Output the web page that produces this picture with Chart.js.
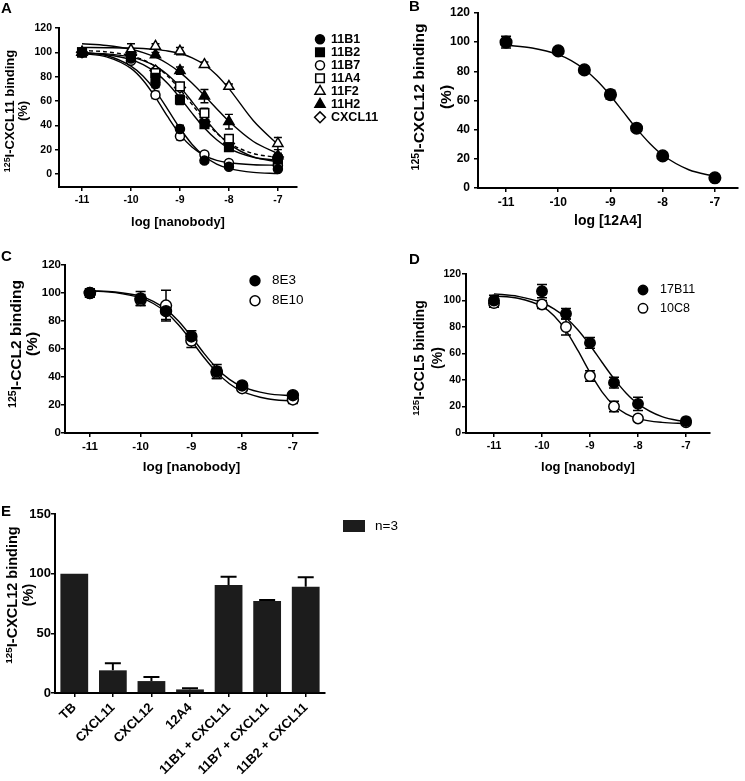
<!DOCTYPE html>
<html>
<head>
<meta charset="utf-8">
<script src="https://cdn.jsdelivr.net/npm/chart.js@4.4.1/dist/chart.umd.min.js"></script>
<style>
  html, body { margin: 0; padding: 0; background: #fff; }
  #figure { position: relative; width: 745px; height: 781px; overflow: hidden; background: #fff;
            font-family: "Liberation Sans", Arial, sans-serif; color: #000; }
  #figure canvas { position: absolute; }
  .panel-letter { position: absolute; font-weight: bold; font-size: 15px; line-height: 15px; }
  .ytitle { position: absolute; font-weight: bold; white-space: nowrap; text-align: center;
            transform: translate(-50%, -50%) rotate(-90deg); }
  .ytitle .sup { font-size: 0.68em; position: relative; top: -0.5em; }
</style>
</head>
<body>
<div id="figure">
  <canvas id="chartA" width="390" height="232" style="left:0;top:0"></canvas>
  <canvas id="chartB" width="375" height="232" style="left:370px;top:0"></canvas>
  <canvas id="chartC" width="370" height="240" style="left:0;top:240px"></canvas>
  <canvas id="chartD" width="375" height="240" style="left:370px;top:240px"></canvas>
  <canvas id="chartE" width="440" height="301" style="left:0;top:480px"></canvas>
  <div class="panel-letter" style="left:1px;top:0">A</div>
  <div class="panel-letter" style="left:409px;top:-2px">B</div>
  <div class="panel-letter" style="left:1px;top:248px">C</div>
  <div class="panel-letter" style="left:409px;top:251px">D</div>
  <div class="panel-letter" style="left:1px;top:503px">E</div>
  <div class="ytitle" style="left:16px;top:111px;font-size:13px;line-height:12px"><span class="sup">125</span>I-CXCL11 binding<br>(%)</div>
  <div class="ytitle" style="left:432px;top:97px;font-size:15.5px;line-height:25px"><span class="sup">125</span>I-CXCL12 binding<br>(%)</div>
  <div class="ytitle" style="left:23px;top:344px;font-size:15.5px;line-height:13.5px"><span class="sup">125</span>I-CCL2 binding<br>(%)</div>
  <div class="ytitle" style="left:428px;top:358px;font-size:14px;line-height:17px"><span class="sup">125</span>I-CCL5 binding<br>(%)</div>
  <div class="ytitle" style="left:20px;top:595px;font-size:14.5px;line-height:15px"><span class="sup">125</span>I-CXCL12 binding<br>(%)</div>
</div>
<script>
// Doses (log M) measured in every competition curve, and the x positions
// the fitted curves were read off at.
const DOSES = [-11, -10, -9.5, -9, -8.5, -8, -7];
const FIT_DOSES = [-11, -10.5, -10, -9.75, -9.5, -9.25, -9, -8.75, -8.5, -8.25, -8, -7.5, -7];
const LOG_TICKS = [-11, -10, -9, -8, -7];
const PERCENT_TICKS = [0, 20, 40, 60, 80, 100, 120];

// Panel A: 125I-CXCL11 displacement
const A_LABELS = ['11B1', '11B2', '11B7', '11A4', '11F2', '11H2', 'CXCL11'];
const A_STYLES = ['circle', 'rect', 'circle', 'rect', 'triangle', 'triangle', 'rectRot'];
const A_FILLED = [true, true, false, false, false, true, false];
const A_11B1 = [100, 95, 74, 37, 11, 6, 4];
const A_11B2 = [100, 97, 79, 61, 41, 22, 12];
const A_11B7 = [100, 93, 65, 31, 16, 9, 7];
const A_11A4 = [100, 96, 83, 72, 50, 29, 10];
const A_11F2 = [100, 102, 105, 101, 90, 72, 25];
const A_11H2 = [100, 100, 98, 85, 64, 43, 15];
const A_CXCL11 = [100, 98, 85, 71, 43, 25, 14];
const A_11B1_ERR = [1, 2, 3, 3, 2, 1, 1];
const A_11B2_ERR = [2, 3, 3, 4, 3, 2, 2];
const A_11B7_ERR = [1, 2, 3, 3, 2, 1, 1];
const A_11A4_ERR = [1, 3, 2, 3, 4, 3, 2];
const A_11F2_ERR = [1, 5, 2, 3, 2, 2, 5];
const A_11H2_ERR = [1, 3, 2, 3, 5.5, 6, 2];
const A_CXCL11_ERR = [1, 2, 2, 2, 3, 2, 2];
const A_11B1_FIT = [100, 97.4, 88.6, 80.3, 68.3, 53.1, 37.6, 24.3, 14.6, 8.2, 4.6, 1.3, 0.4];
const A_11B2_FIT = [99.4, 98, 94, 89.9, 83.5, 74.4, 62.7, 49.8, 37.8, 28.1, 21.1, 13.8, 11.3];
const A_11B7_FIT = [99, 96.3, 86.8, 76.9, 63, 47.1, 32.6, 21.9, 15.1, 11.2, 9.2, 7.6, 7.2];
const A_11A4_FIT = [99.6, 98.7, 96.1, 93.2, 88.6, 81.5, 71.6, 59.3, 46.2, 34.2, 24.8, 14.1, 10];
const A_11F2_FIT = [104, 103.8, 103.5, 103.1, 102.3, 101.1, 99, 95.5, 89.8, 81.4, 70.2, 43.8, 24.2];
const A_11H2_FIT = [107, 105.6, 102.5, 99.8, 96, 90.6, 83.5, 74.6, 64.4, 53.7, 43.3, 26.7, 16.8];
const A_CXCL11_FIT = [101.5, 100.4, 97.2, 93.8, 88.4, 80.4, 69.6, 57, 44.4, 33.6, 25.6, 16.8, 13.6];

// Panel B: 125I-CXCL12 displacement by 12A4
const B_12A4 = [100, 94, 81, 64, 41, 22, 7];
const B_12A4_ERR = [4, 1, 1, 3, 1, 1, 1];
const B_12A4_FIT = [97.9, 96, 91.5, 87.4, 81.4, 73.3, 63.3, 52, 40.7, 30.7, 22.6, 12.5, 8];

// Panel C: 125I-CCL2 displacement
const C_8E3 = [100, 96, 87, 69, 44, 34, 27];
const C_8E10 = [100, 95, 91, 66, 43, 32, 24];
const C_8E3_ERR = [3, 5, 6, 4, 5, 2, 2];
const C_8E10_ERR = [3, 4, 11, 5, 4, 2, 3];
const C_8E3_FIT = [101.6, 100.7, 97.6, 94.1, 88.3, 79.8, 68.8, 56.9, 46.3, 38.3, 33.1, 28.1, 26.6];
const C_8E10_FIT = [101.5, 100.3, 96.5, 92.5, 86.2, 77.2, 65.9, 53.9, 43.3, 35.2, 29.8, 24.5, 22.8];

// Panel D: 125I-CCL5 displacement
const D_17B11 = [100, 107, 90, 68, 38, 22, 9];
const D_10C8 = [98, 97, 80, 43, 20, 11, 8];
const D_17B11_ERR = [4, 5, 4, 4, 4, 5, 1];
const D_10C8_ERR = [3, 3, 6, 4, 4, 1, 1];
const D_17B11_FIT = [105, 103.1, 98.3, 93.7, 87, 77.7, 66.2, 53.4, 41, 30.2, 22, 12.3, 8.3];
const D_10C8_FIT = [103.4, 101.7, 95.5, 88.5, 77.3, 62.1, 45.6, 31.1, 20.8, 14.5, 10.9, 8, 7.1];

// Panel E: 125I-CXCL12 binding, single-dose controls (n=3)
const E_LABELS = ['TB', 'CXCL11', 'CXCL12', '12A4', '11B1 + CXCL11', '11B7 + CXCL11', '11B2 + CXCL11'];
const E_VALUES = [100, 19, 10, 3, 90.5, 77, 89];
const E_ERRORS = [0, 6, 3.5, 1, 7, 1, 8];
const E_TICKS = [0, 50, 100, 150];

const FONT = '"Liberation Sans", Arial, Helvetica, sans-serif';
Chart.defaults.font.family = FONT;
Chart.defaults.color = '#000';
Chart.defaults.animation = false;
Chart.defaults.plugins.legend.display = false;
Chart.defaults.plugins.tooltip.enabled = false;

// relative marker sizes so squares/triangles look as big as the circles
const STYLE_SCALE = { circle: 1, rect: 1.35, triangle: 1.3, rectRot: 1.2 };

// GraphPad-style error bars, drawn under the markers
const errorBars = {
  id: 'errorBars',
  beforeDatasetsDraw(chart, args, opts) {
    const { ctx } = chart;
    ctx.save();
    ctx.strokeStyle = '#000';
    ctx.lineWidth = opts.lineWidth;
    chart.data.datasets.forEach((ds, di) => {
      if (!ds.errors) return;
      const meta = chart.getDatasetMeta(di);
      const yScale = chart.scales[meta.yAxisID];
      meta.data.forEach((el, i) => {
        const err = ds.errors[i];
        if (!err) return;
        const raw = ds.data[i];
        const v = typeof raw === 'object' ? raw.y : raw;
        const top = yScale.getPixelForValue(v + err);
        const bottom = yScale.getPixelForValue(ds.errorsUp ? v : v - err);
        ctx.beginPath();
        ctx.moveTo(el.x, bottom);
        ctx.lineTo(el.x, top);
        ctx.moveTo(el.x - opts.cap, top);
        ctx.lineTo(el.x + opts.cap, top);
        if (!ds.errorsUp) {
          ctx.moveTo(el.x - opts.cap, bottom);
          ctx.lineTo(el.x + opts.cap, bottom);
        }
        ctx.stroke();
      });
    });
    ctx.restore();
  },
};

// legend as a plain column of marker + label, like the Prism export
const sideLegend = {
  id: 'sideLegend',
  afterDraw(chart, args, opts) {
    const { ctx } = chart;
    ctx.save();
    ctx.font = `${opts.weight} ${opts.size}px ${FONT}`;
    ctx.textBaseline = 'middle';
    let row = 0;
    chart.data.datasets.forEach((ds) => {
      if (ds.isFit) return;
      const y = opts.y + row * opts.rowHeight;
      if (chart.config.type === 'bar') {
        ctx.fillStyle = ds.backgroundColor;
        ctx.fillRect(opts.x - opts.boxW / 2, y - opts.boxH / 2, opts.boxW, opts.boxH);
      } else {
        ctx.fillStyle = ds.pointBackgroundColor;
        ctx.strokeStyle = ds.pointBorderColor;
        ctx.lineWidth = ds.pointBorderWidth;
        Chart.helpers.drawPoint(ctx, {
          pointStyle: ds.pointStyle,
          radius: ds.pointRadius * (opts.scale || 1),
          borderWidth: ds.pointBorderWidth,
          rotation: 0,
        }, opts.x, y);
      }
      ctx.fillStyle = '#000';
      ctx.fillText(ds.label, opts.textX, y);
      row++;
    });
    ctx.restore();
  },
};

function pointSet(label, values, errors, style, filled, radius) {
  return {
    label,
    data: DOSES.map((x, i) => ({ x, y: values[i] })),
    errors,
    pointStyle: style,
    pointRadius: radius * (STYLE_SCALE[style] || 1),
    pointBorderWidth: 1.5,
    pointBackgroundColor: filled ? '#000' : '#fff',
    pointBorderColor: '#000',
    showLine: false,
    order: 0,
  };
}

function fitSet(values, dashed) {
  return {
    label: 'fit',
    isFit: true,
    data: FIT_DOSES.map((x, i) => ({ x, y: values[i] })),
    showLine: true,
    pointRadius: 0,
    borderColor: '#000',
    borderWidth: 1.4,
    borderDash: dashed ? [4, 3] : [],
    cubicInterpolationMode: 'monotone',
    order: 1,
  };
}

function prismAxes(p) {
  const x = {
    type: p.xType || 'linear',
    afterFit: (s) => { s.height = p.xHeight; },
    border: { color: '#000', width: 2 },
    grid: { drawOnChartArea: false, color: '#000', lineWidth: 1.5, tickLength: 4, offset: false },
    ticks: {
      font: { size: p.tickSize, weight: 'bold' },
      padding: 3,
      autoSkip: false,
      maxRotation: p.rotation || 0,
      minRotation: p.rotation || 0,
    },
    title: {
      display: !!p.xTitle,
      text: p.xTitle,
      font: { size: p.xTitleSize, weight: 'bold', lineHeight: 1.2 },
      padding: 0,
    },
  };
  if (x.type === 'linear') {
    x.min = p.xMin;
    x.max = p.xMax;
    x.afterBuildTicks = (s) => { s.ticks = p.xTicks.map((v) => ({ value: v })); };
    x.ticks.callback = (v) => String(v);
  }
  return {
    x,
    y: {
      min: p.yMin,
      max: p.yMax,
      afterBuildTicks: (s) => { s.ticks = p.yTicks.map((v) => ({ value: v })); },
      afterFit: (s) => { s.width = p.yWidth; },
      border: { color: '#000', width: 2 },
      grid: { drawOnChartArea: false, color: '#000', lineWidth: 1.5, tickLength: 4 },
      ticks: { font: { size: p.tickSize, weight: 'bold' }, padding: p.yTickPad, callback: (v) => String(v) },
    },
  };
}

// ---- A ----
const A_VALUES = [A_11B1, A_11B2, A_11B7, A_11A4, A_11F2, A_11H2, A_CXCL11];
const A_ERRORS = [A_11B1_ERR, A_11B2_ERR, A_11B7_ERR, A_11A4_ERR, A_11F2_ERR, A_11H2_ERR, A_CXCL11_ERR];
const A_FITS = [A_11B1_FIT, A_11B2_FIT, A_11B7_FIT, A_11A4_FIT, A_11F2_FIT, A_11H2_FIT, A_CXCL11_FIT];

new Chart(document.getElementById('chartA'), {
  type: 'scatter',
  data: {
    datasets: [
      ...A_LABELS.map((label, i) => pointSet(label, A_VALUES[i], A_ERRORS[i], A_STYLES[i], A_FILLED[i], 4.5)),
      ...A_FITS.map((fit, i) => fitSet(fit, A_LABELS[i] === 'CXCL11')),
    ],
  },
  options: {
    responsive: false,
    layout: { padding: { left: 0, top: 28, right: 93, bottom: 2 } },
    scales: prismAxes({
      xMin: -11.47, xMax: -6.61, xTicks: LOG_TICKS, xHeight: 43,
      yMin: -10.7, yMax: 120, yTicks: PERCENT_TICKS, yWidth: 59, yTickPad: 3,
      tickSize: 10.5,
      xTitle: 'log [nanobody]', xTitleSize: 13,
    }),
    plugins: {
      errorBars: { cap: 4, lineWidth: 1.4 },
      sideLegend: { x: 320, y: 39.3, rowHeight: 13, textX: 331, size: 12.5, weight: 'bold' },
    },
  },
  plugins: [errorBars, sideLegend],
});

// ---- B ----
new Chart(document.getElementById('chartB'), {
  type: 'scatter',
  data: {
    datasets: [
      pointSet('12A4', B_12A4, B_12A4_ERR, 'circle', true, 5.8),
      fitSet(B_12A4_FIT, false),
    ],
  },
  options: {
    responsive: false,
    layout: { padding: { left: 0, top: 13, right: 5, bottom: 2.6 } },
    scales: prismAxes({
      xMin: -11.537, xMax: -6.563, xTicks: LOG_TICKS, xHeight: 41.4,
      yMin: 0, yMax: 120, yTicks: PERCENT_TICKS, yWidth: 108, yTickPad: 4,
      tickSize: 12,
      xTitle: 'log [12A4]', xTitleSize: 14,
    }),
    plugins: { errorBars: { cap: 5, lineWidth: 1.5 } },
  },
  plugins: [errorBars],
});

// ---- C ----
new Chart(document.getElementById('chartC'), {
  type: 'scatter',
  data: {
    datasets: [
      pointSet('8E3', C_8E3, C_8E3_ERR, 'circle', true, 5.5),
      pointSet('8E10', C_8E10, C_8E10_ERR, 'circle', false, 5.5),
      fitSet(C_8E3_FIT, false),
      fitSet(C_8E10_FIT, false),
    ],
  },
  options: {
    responsive: false,
    layout: { padding: { left: 0, top: 25, right: 52, bottom: 4.9 } },
    scales: prismAxes({
      xMin: -11.49, xMax: -6.505, xTicks: LOG_TICKS, xHeight: 42.1,
      yMin: 0, yMax: 120, yTicks: PERCENT_TICKS, yWidth: 65, yTickPad: 0,
      tickSize: 11.5,
      xTitle: 'log [nanobody]', xTitleSize: 13.5,
    }),
    plugins: {
      errorBars: { cap: 5, lineWidth: 1.5 },
      sideLegend: { x: 255, y: 40.7, rowHeight: 20, textX: 272, size: 13.5, weight: 'normal', scale: 0.9 },
    },
  },
  plugins: [errorBars, sideLegend],
});

// ---- D ----
new Chart(document.getElementById('chartD'), {
  type: 'scatter',
  data: {
    datasets: [
      pointSet('17B11', D_17B11, D_17B11_ERR, 'circle', true, 5.2),
      pointSet('10C8', D_10C8, D_10C8_ERR, 'circle', false, 5.2),
      fitSet(D_17B11_FIT, false),
      fitSet(D_10C8_FIT, false),
    ],
  },
  options: {
    responsive: false,
    layout: { padding: { left: 0, top: 34, right: 35, bottom: 5.2 } },
    scales: prismAxes({
      xMin: -11.583, xMax: -6.5, xTicks: LOG_TICKS, xHeight: 41.8,
      yMin: 0, yMax: 120, yTicks: PERCENT_TICKS, yWidth: 96, yTickPad: 1,
      tickSize: 10.5,
      xTitle: 'log [nanobody]', xTitleSize: 13,
    }),
    plugins: {
      errorBars: { cap: 5, lineWidth: 1.5 },
      sideLegend: { x: 273, y: 50, rowHeight: 18.3, textX: 290, size: 12.5, weight: 'normal', scale: 0.9 },
    },
  },
  plugins: [errorBars, sideLegend],
});

// ---- E ----
new Chart(document.getElementById('chartE'), {
  type: 'bar',
  data: {
    labels: E_LABELS,
    datasets: [{
      label: 'n=3',
      data: E_VALUES,
      errors: E_ERRORS,
      errorsUp: true,
      backgroundColor: '#1c1c1c',
      barPercentage: 0.72,
      categoryPercentage: 1,
    }],
  },
  options: {
    responsive: false,
    layout: { padding: { left: 0, top: 34, right: 115, bottom: 0 } },
    scales: prismAxes({
      xType: 'category', xHeight: 88, rotation: 45,
      yMin: 0, yMax: 150, yTicks: E_TICKS, yWidth: 55, yTickPad: 0,
      tickSize: 13,
    }),
    plugins: {
      errorBars: { cap: 8, lineWidth: 2 },
      sideLegend: { x: 354, y: 46, rowHeight: 18, textX: 375, size: 13.5, weight: 'normal', boxW: 22, boxH: 12 },
    },
  },
  plugins: [errorBars, sideLegend],
});
</script>
</body>
</html>
